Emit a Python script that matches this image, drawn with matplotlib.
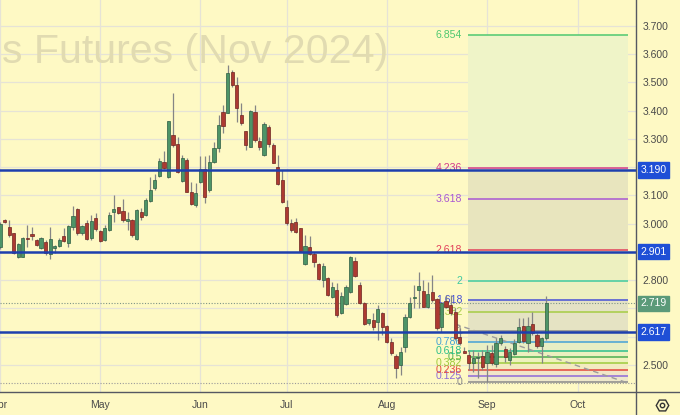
import numpy as np
import matplotlib
matplotlib.use("Agg")
import matplotlib.pyplot as plt
from matplotlib.lines import Line2D

plt.rcParams['font.family'] = ['Liberation Sans', 'DejaVu Sans']

# ---------------- data ----------------
opens = [2.917, 3.013, 2.987, 2.966, 2.883, 2.883, 2.951, 2.963, 2.942, 2.913,
         2.936, 2.893, 2.913, 2.921, 2.957, 2.931, 2.987, 3.052, 2.966, 3.002,
         2.948, 3.019, 2.975, 2.942, 2.978, 3.040, 3.058, 3.045, 3.011, 3.013,
         2.945, 3.043, 3.031, 3.082, 3.125, 3.169, 3.220, 3.164, 3.314, 3.282,
         3.152, 3.226, 3.113, 3.066, 3.149, 3.193, 3.119, 3.220, 3.267, 3.397,
         3.393, 3.538, 3.491, 3.385, 3.329, 3.273, 3.397, 3.294, 3.243, 3.341,
         3.279, 3.202, 3.155, 3.058, 3.002, 3.007, 2.984, 2.856, 2.919, 2.893,
         2.857, 2.801, 2.807, 2.742, 2.765, 2.683, 2.716, 2.759, 2.869, 2.783,
         2.718, 2.648, 2.659, 2.653, 2.685, 2.638, 2.582, 2.532, 2.500, 2.565,
         2.669, 2.738, 2.765, 2.763, 2.704, 2.759, 2.733, 2.634, 2.727, 2.712,
         2.689, 2.600, 2.550, 2.535, 2.508, 2.526, 2.532, 2.507, 2.541, 2.503,
         2.579, 2.556, 2.518, 2.539, 2.582, 2.638, 2.579, 2.645, 2.606, 2.567,
         2.596]
highs = [3.006, 3.018, 3.013, 2.968, 2.931, 2.954, 2.996, 2.987, 2.945, 2.954,
         2.942, 2.987, 2.925, 2.948, 2.984, 2.996, 3.064, 3.055, 2.996, 3.013,
         3.031, 3.039, 2.978, 2.996, 3.043, 3.102, 3.060, 3.086, 3.043, 3.016,
         3.051, 3.055, 3.091, 3.164, 3.176, 3.232, 3.257, 3.365, 3.462, 3.306,
         3.243, 3.232, 3.149, 3.143, 3.240, 3.240, 3.243, 3.290, 3.385, 3.420,
         3.562, 3.544, 3.518, 3.426, 3.329, 3.403, 3.420, 3.306, 3.361, 3.350,
         3.285, 3.243, 3.190, 3.084, 3.016, 3.019, 2.985, 2.960, 2.957, 2.901,
         2.860, 2.860, 2.811, 2.795, 2.791, 2.759, 2.783, 2.886, 2.881, 2.795,
         2.724, 2.662, 2.683, 2.712, 2.689, 2.642, 2.594, 2.539, 2.565, 2.680,
         2.742, 2.783, 2.830, 2.801, 2.795, 2.819, 2.736, 2.724, 2.748, 2.748,
         2.701, 2.630, 2.565, 2.553, 2.553, 2.547, 2.553, 2.571, 2.571, 2.594,
         2.606, 2.567, 2.559, 2.591, 2.665, 2.665, 2.671, 2.689, 2.612, 2.600,
         2.744]
lows = [2.911, 3.002, 2.954, 2.893, 2.878, 2.881, 2.919, 2.942, 2.921, 2.909,
        2.889, 2.874, 2.895, 2.919, 2.936, 2.919, 2.978, 2.960, 2.960, 2.942,
        2.942, 2.975, 2.936, 2.940, 2.975, 3.007, 3.034, 3.007, 2.978, 2.954,
        2.942, 3.013, 3.027, 3.078, 3.119, 3.167, 3.193, 3.161, 3.273, 3.181,
        3.149, 3.112, 3.066, 3.060, 3.143, 3.074, 3.113, 3.216, 3.255, 3.322,
        3.391, 3.485, 3.361, 3.350, 3.261, 3.271, 3.290, 3.261, 3.240, 3.273,
        3.214, 3.137, 3.072, 2.996, 2.972, 2.966, 2.900, 2.854, 2.889, 2.848,
        2.801, 2.775, 2.744, 2.736, 2.671, 2.681, 2.712, 2.756, 2.812, 2.716,
        2.642, 2.642, 2.624, 2.588, 2.606, 2.577, 2.535, 2.453, 2.465, 2.547,
        2.665, 2.701, 2.701, 2.704, 2.701, 2.724, 2.624, 2.618, 2.702, 2.677,
        2.588, 2.571, 2.541, 2.482, 2.476, 2.453, 2.482, 2.440, 2.500, 2.494,
        2.571, 2.512, 2.500, 2.535, 2.577, 2.579, 2.547, 2.606, 2.559, 2.506,
        2.588]
closes = [2.998, 3.006, 2.960, 2.895, 2.928, 2.948, 2.945, 2.957, 2.925, 2.951,
          2.895, 2.945, 2.921, 2.942, 2.940, 2.992, 3.028, 2.966, 2.992, 2.945,
          3.010, 2.980, 2.940, 2.985, 3.032, 3.052, 3.039, 3.013, 3.016, 2.960,
          3.048, 3.025, 3.084, 3.119, 3.155, 3.223, 3.196, 3.365, 3.279, 3.184,
          3.232, 3.113, 3.070, 3.110, 3.193, 3.094, 3.220, 3.267, 3.350, 3.346,
          3.533, 3.491, 3.409, 3.356, 3.279, 3.400, 3.296, 3.271, 3.353, 3.282,
          3.216, 3.141, 3.078, 3.002, 2.978, 2.972, 2.903, 2.921, 2.893, 2.866,
          2.803, 2.850, 2.748, 2.775, 2.677, 2.744, 2.777, 2.881, 2.815, 2.720,
          2.645, 2.662, 2.635, 2.697, 2.635, 2.582, 2.541, 2.488, 2.547, 2.671,
          2.718, 2.742, 2.780, 2.706, 2.751, 2.730, 2.630, 2.721, 2.706, 2.683,
          2.594, 2.577, 2.542, 2.506, 2.524, 2.529, 2.492, 2.547, 2.506, 2.578,
          2.597, 2.527, 2.547, 2.579, 2.635, 2.586, 2.638, 2.612, 2.567, 2.594,
          2.719]

start_date = '2024-04-01'
holidays = ['2024-05-27', '2024-06-19', '2024-07-04', '2024-09-02']
month_names = ['Apr', 'May', 'Jun', 'Jul', 'Aug', 'Sep', 'Oct']

price_ticks = [2.5, 2.6, 2.7, 2.8, 2.9, 3.0, 3.1, 3.2, 3.3, 3.4, 3.5, 3.6, 3.7]
hidden_ticks = [2.6, 2.7, 2.9, 3.2]   # covered by the price boxes
sr_levels = [3.190, 2.901, 2.617]
last_price = 2.719
low_line = 2.437

fib_levels = [0, 0.125, 0.236, 0.382, 0.5, 0.618, 0.786, 1, 1.382, 1.618, 2,
              2.618, 3.618, 4.236, 6.854]
fib_colors = ['#8a8a8a', '#8e6ad8', '#e4463c', '#9fcc3c', '#4cae50', '#2cbf8c',
              '#45a2d6', '#8a8a8a', '#a6cc44', '#4650d6', '#3fc9a0', '#e2405a',
              '#a957d2', '#d23a8a', '#4fc870']
fib_band_colors = ['#eee8cc', '#f1e6c8', '#f3ebc0', '#eef1bd', '#ebf0bf', '#e8eec4',
                   '#e5e6c6', '#e5e3c3', '#e4e2c5', '#edf0c0', '#edf0c0',
                   '#e8e5be', '#e8e5be', '#eff4c8']
fib_p0 = 2.440
fib_p1 = 2.619
fib_start = 102.8
fib_end = 138.0

trend_x = [100, 138]
trend_y = [2.645, 2.436]

watermark = 's Futures (Nov 2024)'

# ---------------- style ----------------
BG = '#fef9c4'
GRID = '#e6e3d6'
AX = '#555862'
TXT = '#4a4a4a'
GREEN = '#4d9467'
GREEN_E = '#2e5d42'
RED = '#ad3a31'
RED_E = '#6e2420'
WICK = '#858585'

W, H = 680, 415
fig = plt.figure(figsize=(W / 100, H / 100), dpi=100, facecolor=BG)
ax = fig.add_axes([0, 23 / H, 636 / W, 392 / H], facecolor=BG)

n = len(closes)
dates = np.busday_offset(start_date, np.arange(140), roll='forward', holidays=holidays)
months = dates.astype('datetime64[M]')
month_pos = [0] + [i for i in range(1, len(dates)) if months[i] != months[i - 1]]

x = np.arange(n)
o = np.array(opens); c = np.array(closes); h = np.array(highs); l = np.array(lows)
up = c >= o

# fib retracement
fib_prices = [fib_p0 + lv * (fib_p1 - fib_p0) for lv in fib_levels]
for k in range(len(fib_levels) - 1):
    ax.fill_between([fib_start, fib_end], fib_prices[k], fib_prices[k + 1],
                    color=fib_band_colors[k], lw=0, zorder=1)
for lv, p, col in zip(fib_levels, fib_prices, fib_colors):
    ax.hlines(p, fib_start, fib_end, color=col, lw=1.1, zorder=2)
    ax.annotate(f'{lv:g}', (fib_start, p), xytext=(-4.0, 0), textcoords='offset points',
                ha='right', va='center', color=col, fontsize=7.6, zorder=2.2)

# dotted lines
ax.axhline(low_line, color='#9a9a9a', lw=0.8, ls=(0, (1, 1.5)), zorder=1.5)
ax.axhline(last_price, color='#7d9486', lw=0.8, ls=(0, (1, 1.5)), zorder=1.5)

# trendline
ax.plot(trend_x, trend_y, color='#9c9c9c', lw=1.0, ls=(0, (4, 3)), zorder=2.4)

# candles
ax.vlines(x, l, h, color=WICK, lw=0.9, zorder=3)
body_b = np.minimum(o, c)
body_h = np.maximum(np.abs(c - o), 0.002)
ax.bar(x[up], body_h[up], bottom=body_b[up], width=0.7, color=GREEN,
       edgecolor=GREEN_E, lw=0.5, zorder=3.2)
ax.bar(x[~up], body_h[~up], bottom=body_b[~up], width=0.7, color=RED,
       edgecolor=RED_E, lw=0.5, zorder=3.2)

# support / resistance lines
for p in sr_levels:
    ax.axhline(p, color='#1d3fae', lw=1.8, zorder=4)

# watermark
ax.text(0.003, 0.839, watermark, transform=ax.transAxes, fontsize=29.6,
        color='#e1dbb1', va='baseline', ha='left', zorder=0.8)

# axes
ax.set_xlim(-0.03, 139.75)
ax.set_ylim(2.4044, 3.792)
ax.set_axisbelow(True)
ax.grid(True, color=GRID, lw=0.9)
ax.set_xticks(month_pos)
ax.set_xticklabels(month_names[:len(month_pos)])
ax.yaxis.tick_right()
ax.set_yticks(price_ticks)
ax.set_yticklabels(['' if any(abs(p - q) < 1e-9 for q in hidden_ticks) else f'{p:.3f}'
                    for p in price_ticks])
ax.tick_params(axis='both', length=0, labelsize=7.5, labelcolor=TXT)
ax.tick_params(axis='y', pad=4.5)
ax.tick_params(axis='x', pad=6)
for s in ax.spines.values():
    s.set_visible(False)

# price labels on right axis
ytr = ax.get_yaxis_transform()
for p in sr_levels:
    ax.text(1.0 + 4.5 / 636, p, f'{p:.3f}', transform=ytr, ha='left', va='center',
            fontsize=7.5, color='white', zorder=10, clip_on=False,
            bbox=dict(boxstyle='square,pad=0.25', fc='#1f4fd6', ec='#1f4fd6'))
ax.text(1.0 + 4.5 / 636, last_price, f'{last_price:.3f}', transform=ytr, ha='left',
        va='center', fontsize=7.5, color='white', zorder=10, clip_on=False,
        bbox=dict(boxstyle='square,pad=0.25', fc='#5b9a79', ec='#5b9a79'))

# frame lines
fig.add_artist(Line2D([0, 1], [23 / H, 23 / H], transform=fig.transFigure, color=AX, lw=1))
fig.add_artist(Line2D([636 / W, 636 / W], [0, 1], transform=fig.transFigure, color=AX, lw=1))

# settings icon
fig.add_artist(Line2D([661.5 / W], [10 / H], transform=fig.transFigure, marker='H',
                      markersize=9, mfc='none', mec='#333333', mew=1.0, ls='none'))
fig.add_artist(Line2D([661.5 / W], [10 / H], transform=fig.transFigure, marker='o',
                      markersize=3.2, mfc='none', mec='#333333', mew=1.0, ls='none'))

fig.savefig('out.png', dpi=100, facecolor=BG)
